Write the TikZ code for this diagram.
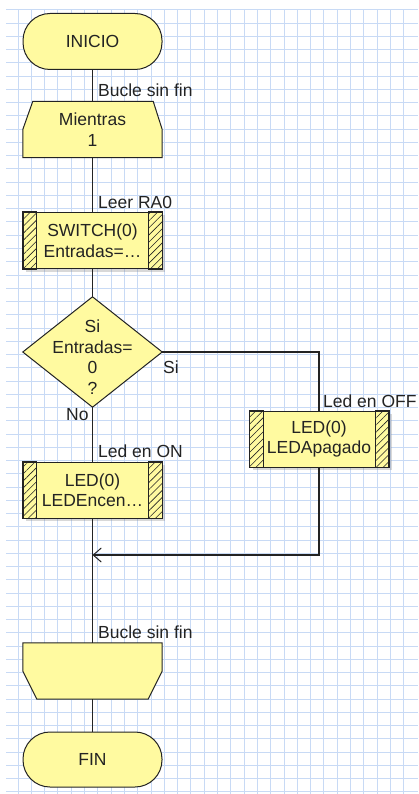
\documentclass[tikz,border=0pt]{standalone}
\usepackage{fontspec}
\setmainfont{Liberation Sans}
\usetikzlibrary{calc,arrows.meta,shadows,patterns.meta}
\pgfdeclarelayer{grid}
\pgfdeclarelayer{background}
\pgfsetlayers{grid,background,main}
\definecolor{boxfill}{RGB}{255,250,160}
\definecolor{gridblue}{RGB}{200,218,245}
\definecolor{ink}{RGB}{35,35,35}
\tikzset{
  txt/.style={font=\fontsize{17.5}{20.5}\selectfont, text=ink, align=center, inner sep=0pt},
  lbl/.style={font=\fontsize{17.5}{20.5}\selectfont, text=ink, inner sep=0pt},
  term/.style={txt, draw=ink, line width=1pt, fill=boxfill, rounded corners=27pt, minimum width=139pt, minimum height=56pt},
  proc/.style={txt, draw=ink, line width=1pt, fill=boxfill, minimum width=139pt, minimum height=56pt,
               drop shadow={shadow xshift=3pt,shadow yshift=-3pt,opacity=0.3}},
  holder/.style={txt, minimum width=139pt, minimum height=56pt},
  shapeline/.style={draw=ink, line width=1pt, fill=boxfill},
  strip/.style={draw=ink, line width=1pt, pattern={Lines[angle=45,distance=5pt,line width=0.6pt]}, pattern color=ink},
  conn/.style={draw=ink, line width=1.3pt},
  gridline/.style={draw=gridblue, line width=1pt},
}
\begin{document}
\begin{tikzpicture}[x=1pt,y=-1pt]
\useasboundingbox (0,0) rectangle (418,794);
\begin{pgfonlayer}{grid}
  \fill[white] (0,0) rectangle (418,794);
  \foreach \k in {1,...,30} \draw[gridline] ({4.7+13.3*\k},10) -- ({4.7+13.3*\k},794);
  \foreach \k in {0,...,59} \draw[gridline] (6,{10+13.25*\k}) -- (418,{10+13.25*\k});
\end{pgfonlayer}

% nodes
\node[term] (ini) at (92.5,41.5) {INICIO};
\node[holder] (mi) at (92.5,129.5) {Mientras\\1};
\node[proc] (sw) at (92.5,240.5) {SWITCH(0)\\Entradas=…};
\node[holder, minimum height=110pt] (dec) at (92.5,352) {};
\node[txt] (dect) at (92.5,357) {Si\\Entradas=\\0\\?};
\node[proc] (off) at (319,439) {LED(0)\\LEDApagado};
\node[proc] (on) at (92.5,490) {LED(0)\\LEDEncen…};
\node[holder] (el) at (92.5,671) {};
\node[term, minimum height=55pt] (fin) at (92.5,759.5) {FIN};
\coordinate (j) at (92.5,555);

% custom shapes
\begin{pgfonlayer}{background}
  \path[shapeline] ($(mi.north west)+(10,0)$) -- ($(mi.north east)+(-9,0)$) -- (mi.east) -- (mi.south east) -- (mi.south west) -- (mi.west) -- cycle;
  \path[shapeline] (dec.north) -- (dec.east) -- (dec.south) -- (dec.west) -- cycle;
  \path[shapeline] (el.north west) -- (el.north east) -- (el.east) -- ($(el.south east)+(-14,0)$) -- ($(el.south west)+(14,0)$) -- (el.west) -- cycle;
\end{pgfonlayer}

% hatched strips
\foreach \n in {sw,on,off}{
  \path[strip] (\n.north west) rectangle ($(\n.south west)+(14,0)$);
  \path[strip] (\n.north east) rectangle ($(\n.south east)+(-14,0)$);
}

% connectors
\draw[conn] (ini.south) -- (mi.north);
\draw[conn] (mi.south) -- (sw.north);
\draw[conn] (sw.south) -- (dec.north);
\draw[conn] (dec.east) -| (off.north);
\draw[conn] (dec.south) -- (on.north);
\draw[conn] (on.south) -- (el.north);
\draw[conn, -{Straight Barb[length=8pt,width=14pt,line width=1pt]}] (off.south) |- (j);
\draw[conn] (el.south) -- (fin.north);

% labels
\node[lbl, anchor=base west] (lb1) at (98,97) {Bucle sin fin};
\node[lbl, anchor=base west] (lb2) at (98,208) {Leer RA0};
\node[lbl, anchor=base west] (lb3) at (163,373) {Si};
\node[lbl, anchor=base west] (lb4) at (66,420) {No};
\node[lbl, anchor=base west] (lb5) at (98,457) {Led en ON};
\node[lbl, anchor=base west] (lb6) at (323,407) {Led en OFF};
\node[lbl, anchor=base west] (lb7) at (98,638) {Bucle sin fin};
\end{tikzpicture}
\end{document}
